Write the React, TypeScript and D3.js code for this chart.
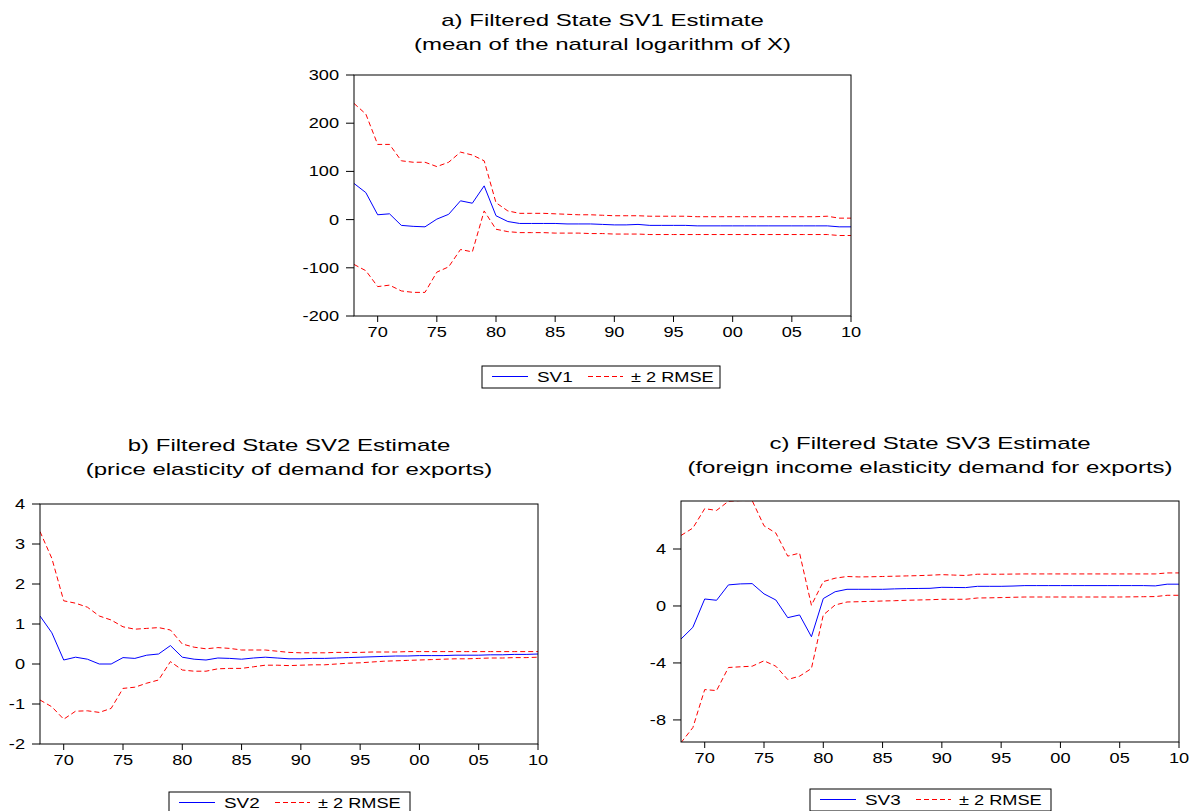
import React from 'react';
import * as d3 from 'd3';

// annual observations 1968..2010
const years = d3.range(1968, 2011);

const sv1 = [75, 56, 10, 12, -12, -14, -15, 1, 11, 39, 34, 70, 8, -4, -8, -8, -8, -8, -9, -9, -9, -10, -11, -11, -10, -12, -12, -12, -12, -13, -13, -13, -13, -13, -13, -13, -13, -13, -13, -13, -13, -15, -15];
const sv1Up = [241, 219, 156, 156, 122, 119, 119, 110, 119, 140, 134, 122, 35, 18, 13, 13, 13, 12, 11, 10, 10, 9, 8, 8, 8, 7, 7, 7, 7, 6, 6, 6, 6, 6, 6, 6, 6, 6, 6, 6, 7, 3, 3];
const sv1Lo = [-93, -106, -139, -136, -148, -151, -151, -109, -98, -62, -67, 18, -20, -25, -27, -27, -27, -28, -28, -28, -29, -29, -30, -30, -30, -31, -31, -31, -31, -31, -31, -31, -31, -31, -31, -31, -31, -31, -31, -31, -31, -33, -33];

const sv2 = [1.2, 0.78, 0.1, 0.17, 0.12, 0.0, 0.0, 0.16, 0.14, 0.22, 0.25, 0.46, 0.17, 0.12, 0.1, 0.15, 0.14, 0.12, 0.15, 0.17, 0.15, 0.13, 0.13, 0.14, 0.14, 0.15, 0.16, 0.17, 0.18, 0.19, 0.2, 0.2, 0.21, 0.21, 0.21, 0.22, 0.22, 0.22, 0.23, 0.23, 0.24, 0.24, 0.25];
const sv2Up = [3.31, 2.64, 1.58, 1.52, 1.42, 1.2, 1.1, 0.93, 0.87, 0.89, 0.91, 0.85, 0.5, 0.42, 0.38, 0.41, 0.39, 0.35, 0.35, 0.35, 0.32, 0.29, 0.28, 0.28, 0.28, 0.29, 0.29, 0.29, 0.3, 0.3, 0.3, 0.31, 0.31, 0.31, 0.31, 0.31, 0.31, 0.31, 0.31, 0.31, 0.31, 0.31, 0.31];
const sv2Lo = [-0.9, -1.07, -1.38, -1.18, -1.17, -1.21, -1.11, -0.61, -0.58, -0.48, -0.4, 0.06, -0.15, -0.18, -0.18, -0.12, -0.11, -0.11, -0.07, -0.03, -0.03, -0.04, -0.03, -0.02, -0.02, 0.0, 0.02, 0.03, 0.05, 0.07, 0.08, 0.09, 0.1, 0.11, 0.12, 0.13, 0.13, 0.14, 0.15, 0.15, 0.16, 0.16, 0.17];

const sv3 = [-2.32, -1.5, 0.49, 0.4, 1.48, 1.55, 1.57, 0.85, 0.42, -0.82, -0.63, -2.16, 0.52, 1.0, 1.17, 1.17, 1.17, 1.17, 1.2, 1.22, 1.23, 1.24, 1.31, 1.3, 1.29, 1.38, 1.38, 1.38, 1.4, 1.43, 1.43, 1.43, 1.43, 1.43, 1.43, 1.43, 1.43, 1.43, 1.43, 1.43, 1.41, 1.53, 1.53];
const sv3Up = [4.95, 5.47, 6.83, 6.71, 7.35, 7.4, 7.4, 5.63, 5.12, 3.5, 3.71, 0.05, 1.71, 1.95, 2.07, 2.04, 2.05, 2.07, 2.09, 2.11, 2.13, 2.16, 2.2, 2.17, 2.14, 2.23, 2.23, 2.23, 2.24, 2.25, 2.25, 2.25, 2.25, 2.25, 2.25, 2.25, 2.25, 2.25, 2.25, 2.25, 2.25, 2.32, 2.32];
const sv3Lo = [-9.6, -8.54, -5.87, -5.94, -4.32, -4.27, -4.23, -3.85, -4.23, -5.16, -4.93, -4.39, -0.63, 0.07, 0.28, 0.3, 0.32, 0.35, 0.37, 0.4, 0.42, 0.44, 0.47, 0.47, 0.47, 0.56, 0.57, 0.59, 0.61, 0.63, 0.63, 0.63, 0.63, 0.63, 0.63, 0.63, 0.63, 0.63, 0.64, 0.65, 0.66, 0.75, 0.75];

const xTicks = [1970, 1975, 1980, 1985, 1990, 1995, 2000, 2005, 2010];
const xTickLabels = ['70', '75', '80', '85', '90', '95', '00', '05', '10'];

const FONT = '"Liberation Sans", Arial, sans-serif';
const RED = '#ff0000';
const BLUE = '#0000ff';

// eviews output is stretched sideways, so text gets a horizontal scale
function SText({ x, y, sx, anchor = 'start', size, children }: any) {
  return (
    <text
      transform={`translate(${x},${y}) scale(${sx},1)`}
      textAnchor={anchor}
      fontSize={size}
      fontFamily={FONT}
      fill="#000"
    >
      {children}
    </text>
  );
}

function Panel({ id, box, yDomain, yTicks, title, subtitle, titleY, values, upper, lower, name, legend }: any) {
  const [left, top, right, bottom] = box;
  const x = d3.scaleLinear().domain([1968, 2010]).range([left, right]);
  const y = d3.scaleLinear().domain(yDomain).range([bottom, top]);
  const line = d3
    .line<number>()
    .x((_, i) => x(years[i]))
    .y((d) => y(d));
  const cx = (left + right) / 2;

  return (
    <g>
      <defs>
        <clipPath id={id}>
          <rect x={left} y={top} width={right - left} height={bottom - top} />
        </clipPath>
      </defs>
      <SText x={cx} y={titleY} sx={1.5} anchor="middle" size={16}>{title}</SText>
      <SText x={cx} y={titleY + 24} sx={1.5} anchor="middle" size={16}>{subtitle}</SText>

      <g clipPath={`url(#${id})`}>
        <path d={line(upper) || ''} fill="none" stroke={RED} strokeWidth={1} strokeDasharray="5,3" />
        <path d={line(lower) || ''} fill="none" stroke={RED} strokeWidth={1} strokeDasharray="5,3" />
        <path d={line(values) || ''} fill="none" stroke={BLUE} strokeWidth={1} />
      </g>

      <rect x={left} y={top} width={right - left} height={bottom - top} fill="none" stroke="#000" strokeWidth={1} />

      {yTicks.map((t: number) => (
        <g key={t}>
          <line x1={left - 8} x2={left} y1={y(t)} y2={y(t)} stroke="#000" />
          <SText x={left - 15} y={y(t) + 5} sx={1.3} anchor="end" size={14}>{String(t)}</SText>
        </g>
      ))}
      {xTicks.map((t, i) => (
        <g key={t}>
          <line x1={x(t)} x2={x(t)} y1={bottom} y2={bottom + 6} stroke="#000" />
          <SText x={x(t)} y={bottom + 21} sx={1.3} anchor="middle" size={14}>{xTickLabels[i]}</SText>
        </g>
      ))}

      <g transform={`translate(${legend[0]},${legend[1]})`}>
        <rect x={0} y={0} width={legend[2]} height={22} fill="#fff" stroke="#000" />
        <line x1={10} x2={46} y1={10.5} y2={10.5} stroke={BLUE} />
        <SText x={55} y={15.5} sx={1.35} size={14}>{name}</SText>
        <line x1={106} x2={141} y1={10.5} y2={10.5} stroke={RED} strokeDasharray="5,3" />
        <SText x={149} y={15.5} sx={1.3} size={14}>± 2 RMSE</SText>
      </g>
    </g>
  );
}

export default function App() {
  return (
    <svg width={1189} height={811} style={{ position: 'absolute', left: 0, top: 0, background: '#fff' }}>
      <rect width={1189} height={811} fill="#fff" />
      <Panel
        id="ca"
        box={[354, 75, 851, 316]}
        yDomain={[-200, 300]}
        yTicks={[-200, -100, 0, 100, 200, 300]}
        title="a) Filtered State SV1 Estimate"
        subtitle="(mean of the natural logarithm of X)"
        titleY={26}
        values={sv1}
        upper={sv1Up}
        lower={sv1Lo}
        name="SV1"
        legend={[482, 366, 238]}
      />
      <Panel
        id="cb"
        box={[40, 504, 538, 744]}
        yDomain={[-2, 4]}
        yTicks={[-2, -1, 0, 1, 2, 3, 4]}
        title="b) Filtered State SV2 Estimate"
        subtitle="(price elasticity of demand for exports)"
        titleY={451}
        values={sv2}
        upper={sv2Up}
        lower={sv2Lo}
        name="SV2"
        legend={[169, 792, 241]}
      />
      <Panel
        id="cc"
        box={[681, 501, 1179, 742]}
        yDomain={[-9.55, 7.37]}
        yTicks={[-8, -4, 0, 4]}
        title="c) Filtered State SV3 Estimate"
        subtitle="(foreign income elasticity demand for exports)"
        titleY={449}
        values={sv3}
        upper={sv3Up}
        lower={sv3Lo}
        name="SV3"
        legend={[810, 789, 241]}
      />
    </svg>
  );
}
